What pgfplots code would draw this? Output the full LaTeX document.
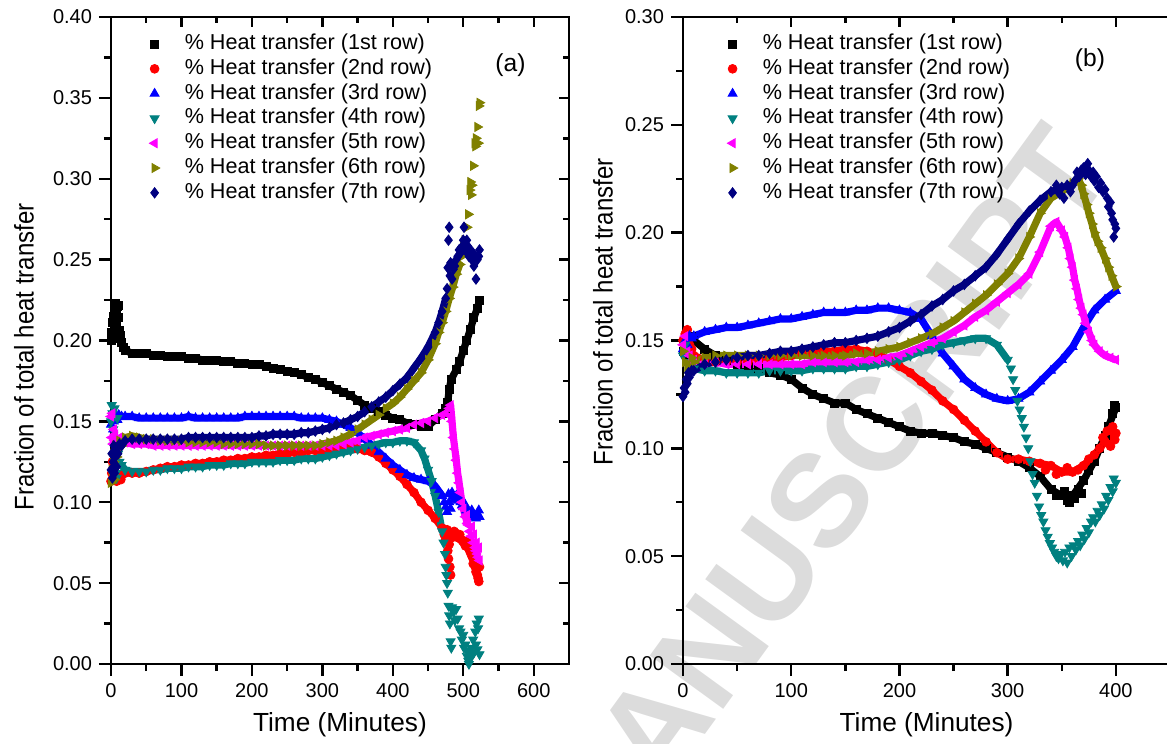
\documentclass[border=0pt]{standalone}
\usepackage{fontspec}
\setmainfont{Liberation Sans}
\usepackage{graphicx}
\usepackage{pgfplots}
\usepackage{pgfplotstable}
\pgfplotsset{compat=1.18}
\definecolor{wm}{RGB}{220,220,220}
\definecolor{cteal}{RGB}{0,128,128}
\definecolor{colive}{RGB}{128,128,0}
\definecolor{cnavy}{RGB}{0,0,128}
\definecolor{cmag}{RGB}{255,0,255}

% ---------------- LEFT PANEL DATA ----------------
\pgfplotstableread{
x y
20 0.194
30 0.192
40 0.192
50 0.192
60 0.191
70 0.191
80 0.190
90 0.190
100 0.190
110 0.189
120 0.189
130 0.188
140 0.188
150 0.188
160 0.187
170 0.187
180 0.186
190 0.186
200 0.185
210 0.185
220 0.184
230 0.183
240 0.182
250 0.181
260 0.180
270 0.179
280 0.177
290 0.176
300 0.174
310 0.172
320 0.170
330 0.168
340 0.166
350 0.163
360 0.160
370 0.158
380 0.156
390 0.154
400 0.152
410 0.151
420 0.149
430 0.148
440 0.147
450 0.147
460 0.151
470 0.155
475 0.158
478 0.162
480 0.170
483 0.176
490 0.182
495 0.187
500 0.194
505 0.200
510 0.207
515 0.214
520 0.220
523 0.225
}\LA
\pgfplotstableread{
x y
0 0.200
1 0.205
2 0.211
3 0.203
4 0.215
5 0.220
6 0.223
7 0.218
8 0.209
9 0.221
10 0.222
11 0.214
12 0.206
13 0.203
14 0.201
15 0.199
17 0.196
}\LnA
\pgfplotstableread{
x y
20 0.118
30 0.118
40 0.118
50 0.119
60 0.120
70 0.121
80 0.122
90 0.122
100 0.123
110 0.123
120 0.124
130 0.124
140 0.125
150 0.125
160 0.126
170 0.126
180 0.127
190 0.127
200 0.128
210 0.128
220 0.129
230 0.129
240 0.130
250 0.130
260 0.131
270 0.131
280 0.132
290 0.132
300 0.132
310 0.133
320 0.133
330 0.134
340 0.134
350 0.133
360 0.132
370 0.131
380 0.128
390 0.124
400 0.120
410 0.116
420 0.111
430 0.106
440 0.100
450 0.095
460 0.090
470 0.084
}\LB
\pgfplotstableread{
x y
0 0.113
1 0.118
2 0.125
3 0.115
4 0.120
5 0.114
6 0.122
7 0.116
8 0.113
9 0.115
10 0.117
12 0.116
14 0.114
16 0.117
473 0.080
475 0.077
477 0.083
478 0.070
479 0.065
480 0.074
481 0.060
482 0.055
483 0.078
485 0.080
487 0.082
489 0.081
491 0.079
493 0.078
495 0.080
497 0.077
499 0.076
501 0.075
503 0.073
505 0.076
507 0.072
509 0.070
511 0.068
513 0.066
514 0.062
516 0.065
517 0.060
518 0.057
520 0.055
521 0.053
522 0.051
523 0.060
}\LnB
\pgfplotstableread{
x y
15 0.153
20 0.153
30 0.153
40 0.152
50 0.152
60 0.152
70 0.152
80 0.152
90 0.152
100 0.152
110 0.153
120 0.152
130 0.152
140 0.152
150 0.152
160 0.152
170 0.152
180 0.152
190 0.153
200 0.153
210 0.153
220 0.153
230 0.153
240 0.153
250 0.153
260 0.153
270 0.152
280 0.152
290 0.152
300 0.152
310 0.151
320 0.150
330 0.148
340 0.146
350 0.143
360 0.139
370 0.135
380 0.131
390 0.127
400 0.123
410 0.120
420 0.117
430 0.115
440 0.114
450 0.113
460 0.110
465 0.107
470 0.104
}\LC
\pgfplotstableread{
x y
0 0.148
1 0.152
2 0.155
3 0.145
4 0.150
5 0.154
7 0.153
9 0.151
11 0.154
473 0.100
475 0.097
477 0.094
479 0.105
480 0.100
482 0.096
484 0.106
486 0.104
488 0.102
490 0.104
492 0.101
494 0.103
496 0.100
498 0.098
500 0.097
502 0.099
504 0.095
506 0.093
508 0.094
510 0.092
512 0.095
514 0.093
516 0.091
518 0.090
520 0.093
522 0.095
523 0.091
}\LnC
\pgfplotstableread{
x y
15 0.123
20 0.120
30 0.119
40 0.119
50 0.119
60 0.120
70 0.120
80 0.121
90 0.121
100 0.121
110 0.122
120 0.122
130 0.122
140 0.123
150 0.123
160 0.123
170 0.124
180 0.124
190 0.124
200 0.125
210 0.125
220 0.125
230 0.125
240 0.126
250 0.126
260 0.126
270 0.127
280 0.127
290 0.127
300 0.128
310 0.129
320 0.130
330 0.131
340 0.132
350 0.133
360 0.134
370 0.135
380 0.136
390 0.137
400 0.137
410 0.138
420 0.138
430 0.137
440 0.132
445 0.127
450 0.120
455 0.113
460 0.104
465 0.094
470 0.082
}\LD
\pgfplotstableread{
x y
0 0.150
1 0.160
2 0.155
3 0.145
4 0.135
5 0.158
6 0.125
7 0.118
8 0.115
9 0.152
10 0.130
12 0.125
472 0.075
474 0.068
475 0.060
476 0.055
477 0.050
478 0.044
479 0.036
480 0.030
481 0.025
482 0.014
483 0.010
484 0.035
486 0.032
488 0.027
490 0.034
492 0.028
494 0.022
496 0.020
498 0.015
500 0.018
501 0.010
503 0.012
505 0.005
506 0.008
507 0.002
508 0.000
509 0.006
511 0.004
512 0.010
514 0.015
515 0.007
517 0.020
518 0.012
519 0.025
520 0.009
521 0.022
522 0.028
523 0.006
}\LnD
\pgfplotstableread{
x y
15 0.138
20 0.137
30 0.136
40 0.136
50 0.136
60 0.135
70 0.135
80 0.135
90 0.135
100 0.135
110 0.135
120 0.135
130 0.135
140 0.135
150 0.135
160 0.135
170 0.135
180 0.135
190 0.135
200 0.135
210 0.135
220 0.135
230 0.135
240 0.135
250 0.135
260 0.135
270 0.135
280 0.135
290 0.135
300 0.135
310 0.135
320 0.135
330 0.136
340 0.137
350 0.138
360 0.140
370 0.141
380 0.142
390 0.143
400 0.144
410 0.145
420 0.146
430 0.148
440 0.149
450 0.150
460 0.152
470 0.154
475 0.155
480 0.158
482 0.160
484 0.150
486 0.140
488 0.133
490 0.126
492 0.118
494 0.112
496 0.106
498 0.100
500 0.096
503 0.091
506 0.087
}\LE
\pgfplotstableread{
x y
0 0.153
1 0.140
2 0.155
3 0.136
4 0.145
5 0.138
6 0.142
8 0.137
10 0.139
12 0.140
505 0.092
507 0.086
509 0.082
511 0.079
512 0.085
514 0.075
515 0.080
517 0.072
518 0.070
519 0.075
520 0.068
521 0.066
522 0.072
523 0.064
}\LnE
\pgfplotstableread{
x y
15 0.135
20 0.140
30 0.141
40 0.140
50 0.139
60 0.139
70 0.138
80 0.138
90 0.138
100 0.138
110 0.137
120 0.137
130 0.137
140 0.137
150 0.137
160 0.136
170 0.136
180 0.136
190 0.136
200 0.136
210 0.136
220 0.135
230 0.135
240 0.135
250 0.135
260 0.135
270 0.135
280 0.135
290 0.135
300 0.136
310 0.137
320 0.138
330 0.140
340 0.142
350 0.145
360 0.148
370 0.151
380 0.154
390 0.158
400 0.161
410 0.165
420 0.170
430 0.175
440 0.180
450 0.188
460 0.198
465 0.205
470 0.211
475 0.218
480 0.226
485 0.233
490 0.241
495 0.247
}\LF
\pgfplotstableread{
x y
0 0.112
1 0.120
2 0.117
3 0.130
4 0.125
5 0.114
6 0.135
8 0.128
10 0.133
12 0.138
498 0.252
500 0.258
502 0.262
503 0.255
505 0.270
507 0.278
509 0.293
510 0.298
511 0.290
512 0.296
514 0.308
516 0.322
517 0.320
518 0.325
520 0.332
521 0.322
522 0.345
523 0.347
}\LnF
\pgfplotstableread{
x y
15 0.135
20 0.138
30 0.139
40 0.139
50 0.139
60 0.139
70 0.139
80 0.139
90 0.139
100 0.139
110 0.140
120 0.140
130 0.140
140 0.140
150 0.140
160 0.140
170 0.140
180 0.140
190 0.140
200 0.140
210 0.141
220 0.141
230 0.142
240 0.142
250 0.142
260 0.142
270 0.143
280 0.143
290 0.144
300 0.145
310 0.146
320 0.148
330 0.149
340 0.151
350 0.153
360 0.156
370 0.159
380 0.162
390 0.165
400 0.169
410 0.173
420 0.177
430 0.183
440 0.189
450 0.196
460 0.205
465 0.211
470 0.218
475 0.226
}\LG
\pgfplotstableread{
x y
0 0.120
1 0.130
2 0.115
3 0.125
4 0.135
5 0.118
6 0.128
7 0.132
8 0.122
10 0.130
12 0.136
477 0.232
478 0.245
479 0.262
480 0.270
481 0.240
482 0.248
484 0.238
486 0.244
488 0.246
490 0.250
492 0.252
494 0.256
496 0.254
498 0.258
500 0.262
501 0.270
502 0.259
504 0.255
505 0.262
507 0.258
508 0.252
510 0.256
512 0.250
514 0.254
515 0.246
517 0.252
518 0.238
520 0.250
522 0.252
523 0.256
}\LnG

% ---------------- RIGHT PANEL DATA ----------------
\pgfplotstableread{
x y
10 0.150
20 0.146
30 0.143
40 0.141
50 0.139
60 0.138
70 0.137
80 0.135
90 0.134
100 0.132
110 0.128
120 0.125
130 0.123
140 0.121
150 0.121
160 0.118
170 0.116
180 0.114
190 0.112
200 0.110
210 0.108
220 0.107
230 0.107
240 0.106
250 0.105
260 0.103
270 0.102
280 0.100
290 0.098
300 0.096
310 0.094
320 0.091
330 0.087
340 0.081
350 0.078
360 0.078
370 0.085
380 0.094
390 0.106
400 0.119
}\RA
\pgfplotstableread{
x y
0 0.145
2 0.148
4 0.143
6 0.150
8 0.152
345 0.078
352 0.080
355 0.076
357 0.075
362 0.077
365 0.081
368 0.079
375 0.090
385 0.100
393 0.110
397 0.116
399 0.120
}\RnA
\pgfplotstableread{
x y
10 0.143
20 0.141
30 0.140
40 0.140
50 0.140
60 0.140
70 0.141
80 0.142
90 0.142
100 0.143
110 0.144
120 0.144
130 0.145
140 0.145
150 0.146
160 0.146
170 0.145
180 0.144
190 0.141
200 0.138
210 0.135
220 0.131
230 0.127
240 0.122
250 0.118
260 0.113
270 0.108
280 0.103
290 0.098
300 0.095
310 0.095
320 0.094
330 0.093
340 0.092
350 0.089
360 0.089
370 0.092
380 0.097
390 0.103
400 0.107
}\RB
\pgfplotstableread{
x y
0 0.150
2 0.153
4 0.155
6 0.148
8 0.146
335 0.090
345 0.088
355 0.091
365 0.090
375 0.095
385 0.100
388 0.105
392 0.108
395 0.101
397 0.110
399 0.104
}\RnB
\pgfplotstableread{
x y
10 0.152
20 0.154
30 0.155
40 0.156
50 0.156
60 0.157
70 0.158
80 0.159
90 0.160
100 0.160
110 0.161
120 0.162
130 0.163
140 0.163
150 0.163
160 0.164
170 0.164
180 0.165
190 0.165
200 0.164
210 0.163
220 0.160
230 0.152
240 0.144
250 0.138
260 0.132
270 0.128
280 0.125
290 0.123
300 0.122
310 0.123
320 0.126
330 0.131
340 0.136
350 0.141
360 0.147
370 0.156
380 0.164
390 0.169
400 0.173
}\RC
\pgfplotstableread{
x y
0 0.146
2 0.150
4 0.148
6 0.152
8 0.151
}\RnC
\pgfplotstableread{
x y
10 0.137
20 0.136
30 0.136
40 0.135
50 0.135
60 0.135
70 0.135
80 0.136
90 0.136
100 0.136
110 0.136
120 0.137
130 0.137
140 0.137
150 0.137
160 0.138
170 0.138
180 0.139
190 0.140
200 0.141
210 0.143
220 0.145
230 0.146
240 0.148
250 0.149
260 0.150
270 0.151
280 0.151
290 0.148
300 0.141
}\RD
\pgfplotstableread{
x y
0 0.143
2 0.148
4 0.140
6 0.139
8 0.138
303 0.137
305 0.132
307 0.127
309 0.122
311 0.118
313 0.114
315 0.110
317 0.105
319 0.100
321 0.094
323 0.088
325 0.084
327 0.078
329 0.073
331 0.069
333 0.066
335 0.062
337 0.059
339 0.056
341 0.054
343 0.052
345 0.050
347 0.049
349 0.051
351 0.048
353 0.052
355 0.047
357 0.054
359 0.050
361 0.055
363 0.053
365 0.057
367 0.055
369 0.060
371 0.058
373 0.063
375 0.061
377 0.066
379 0.068
381 0.066
383 0.071
385 0.069
387 0.074
389 0.072
391 0.078
393 0.076
395 0.082
397 0.080
398 0.086
400 0.084
}\RnD
\pgfplotstableread{
x y
10 0.141
20 0.140
30 0.140
40 0.139
50 0.139
60 0.139
70 0.139
80 0.139
90 0.139
100 0.139
110 0.139
120 0.140
130 0.140
140 0.140
150 0.140
160 0.140
170 0.141
180 0.141
190 0.142
200 0.143
210 0.145
220 0.147
230 0.149
240 0.151
250 0.154
260 0.157
270 0.161
280 0.164
290 0.168
300 0.172
310 0.176
320 0.181
330 0.191
340 0.203
345 0.205
350 0.201
353 0.198
356 0.193
358 0.188
360 0.184
362 0.178
364 0.174
366 0.169
368 0.165
370 0.162
372 0.158
375 0.154
378 0.150
380 0.148
385 0.145
390 0.143
395 0.142
400 0.141
}\RE
\pgfplotstableread{
x y
0 0.148
2 0.152
4 0.145
6 0.143
8 0.140
}\RnE
\pgfplotstableread{
x y
10 0.140
20 0.142
30 0.143
40 0.143
50 0.143
60 0.143
70 0.143
80 0.143
90 0.143
100 0.143
110 0.143
120 0.143
130 0.143
140 0.143
150 0.143
160 0.144
170 0.144
180 0.145
190 0.146
200 0.147
210 0.149
220 0.151
230 0.153
240 0.156
250 0.159
260 0.163
270 0.167
280 0.171
290 0.176
300 0.181
310 0.188
320 0.198
330 0.209
340 0.216
350 0.219
360 0.223
365 0.225
368 0.222
370 0.218
373 0.213
375 0.209
378 0.204
380 0.200
383 0.196
386 0.193
390 0.188
393 0.184
396 0.180
400 0.175
}\RF
\pgfplotstableread{
x y
0 0.145
2 0.140
4 0.137
6 0.138
8 0.142
}\RnF
\pgfplotstableread{
x y
10 0.136
20 0.139
30 0.140
40 0.141
50 0.142
60 0.143
70 0.143
80 0.144
90 0.145
100 0.145
110 0.146
120 0.147
130 0.148
140 0.149
150 0.149
160 0.150
170 0.151
180 0.152
190 0.154
200 0.156
210 0.159
220 0.162
230 0.166
240 0.169
250 0.173
260 0.176
270 0.180
280 0.184
290 0.190
300 0.197
310 0.204
320 0.210
330 0.215
340 0.219
350 0.221
360 0.222
}\RG
\pgfplotstableread{
x y
0 0.124
1 0.128
2 0.126
3 0.132
4 0.130
5 0.135
6 0.133
8 0.136
345 0.222
348 0.218
352 0.216
355 0.222
358 0.219
362 0.224
364 0.228
366 0.226
368 0.229
370 0.230
372 0.227
374 0.232
375 0.229
377 0.226
379 0.228
380 0.224
382 0.226
384 0.221
386 0.223
388 0.219
390 0.220
392 0.216
393 0.212
395 0.214
396 0.209
397 0.206
398 0.198
399 0.204
400 0.202
}\RnG

\newcommand{\series}[5]{%
  \addplot[forget plot, no marks, color=#3, line width=3.6pt, line join=round, line cap=round] table {#1};
  \addplot[only marks, color=#3, #4] table {#1};
  \addlegendentry{#5}
  \addplot[forget plot, only marks, color=#3, #4] table {#2};
}

\pgfplotsset{
  panel/.style={
    scale only axis, height=323.5pt, ymin=0,
    tick align=outside, xtick pos=left, ytick pos=left,
    minor x tick num=1, minor y tick num=1,
    major tick length=6pt, minor tick length=3.5pt,
    axis line style={line width=1.2pt},
    tick style={line width=1.2pt, black},
    ticklabel style={font=\fontsize{10}{12}\selectfont},
    /pgf/number format/assume math mode=true,
    yticklabel style={/pgf/number format/fixed,/pgf/number format/fixed zerofill,/pgf/number format/precision=2},
    scaled y ticks=false,
    xlabel={Time (Minutes)},
    xlabel style={font=\fontsize{13.1}{15}\selectfont, at={(rel axis cs:0.5,-0.0945)}, anchor=center},
    ylabel={\scalebox{0.89}[1]{Fraction of total heat transfer}},
    legend cell align=left,
    legend style={draw=none, fill=none, anchor=north west, inner sep=0pt,
      font=\fontsize{10.8}{12}\selectfont,
      nodes={inner sep=1pt, text height=7.9pt, text depth=2.5pt}, column sep=11.5pt},
  },
  frame/.style={
    scale only axis, height=323.5pt, ymin=0,
    tick align=inside, xtick pos=right, ytick pos=right,
    minor x tick num=1, minor y tick num=1,
    major tick length=5pt, minor tick length=3pt,
    axis line style={draw=none},
    tick style={line width=1.2pt, black},
    xticklabels={}, yticklabels={},
  },
}

\begin{document}
\begin{tikzpicture}
\node[anchor=east, rotate=54, inner sep=0pt, text=wm, font=\fontsize{66}{66}\selectfont\bfseries] at (484pt,260pt) {MANUSCRIPT};

% ---------- left panel ----------
\begin{axis}[panel, at={(0pt,0pt)}, anchor=south west, width=229pt,
  xmin=0, xmax=650, ymax=0.40,
  xtick={0,100,200,300,400,500,600},
  ytick={0,0.05,0.10,0.15,0.20,0.25,0.30,0.35,0.40},
  ylabel style={font=\fontsize{13.5}{15}\selectfont, at={(rel axis cs:-0.190,0.4745)}, anchor=center},
  legend style={at={(rel axis cs:0.083,0.978)}},
]
\series{\LA}{\LnA}{black}{mark=square*, mark size=2pt}{\% Heat transfer (1st row)}
\series{\LB}{\LnB}{red}{mark=*, mark size=2.2pt}{\% Heat transfer (2nd row)}
\series{\LC}{\LnC}{blue}{mark=triangle*, mark size=2.6pt}{\% Heat transfer (3rd row)}
\series{\LD}{\LnD}{cteal}{mark=triangle*, mark size=2.6pt, mark options={rotate=180}}{\% Heat transfer (4th row)}
\series{\LE}{\LnE}{cmag}{mark=triangle*, mark size=2.6pt, mark options={rotate=90}}{\% Heat transfer (5th row)}
\series{\LF}{\LnF}{colive}{mark=triangle*, mark size=2.6pt, mark options={rotate=-90}}{\% Heat transfer (6th row)}
\series{\LG}{\LnG}{cnavy}{mark=diamond*, mark size=2.6pt}{\% Heat transfer (7th row)}
\node[font=\fontsize{12.3}{14}\selectfont] at (axis cs:567,0.370) {(a)};
\end{axis}
\begin{axis}[frame, at={(0pt,0pt)}, anchor=south west, width=229pt,
  xmin=0, xmax=650, ymax=0.40,
  xtick={0,100,200,300,400,500,600},
  ytick={0,0.05,0.10,0.15,0.20,0.25,0.30,0.35,0.40}]
\end{axis}

% ---------- right panel ----------
\begin{axis}[panel, at={(286pt,0pt)}, anchor=south west, width=243.5pt,
  xmin=0, xmax=450, ymax=0.30,
  xtick={0,100,200,300,400},
  ytick={0,0.05,0.10,0.15,0.20,0.25,0.30},
  ylabel style={font=\fontsize{13.5}{15}\selectfont, at={(rel axis cs:-0.1643,0.544)}, anchor=center},
  legend style={at={(rel axis cs:0.0903,0.978)}},
]
\series{\RA}{\RnA}{black}{mark=square*, mark size=2pt}{\% Heat transfer (1st row)}
\series{\RB}{\RnB}{red}{mark=*, mark size=2.2pt}{\% Heat transfer (2nd row)}
\series{\RC}{\RnC}{blue}{mark=triangle*, mark size=2.6pt}{\% Heat transfer (3rd row)}
\series{\RD}{\RnD}{cteal}{mark=triangle*, mark size=2.6pt, mark options={rotate=180}}{\% Heat transfer (4th row)}
\series{\RE}{\RnE}{cmag}{mark=triangle*, mark size=2.6pt, mark options={rotate=90}}{\% Heat transfer (5th row)}
\series{\RF}{\RnF}{colive}{mark=triangle*, mark size=2.6pt, mark options={rotate=-90}}{\% Heat transfer (6th row)}
\series{\RG}{\RnG}{cnavy}{mark=diamond*, mark size=2.6pt}{\% Heat transfer (7th row)}
\node[font=\fontsize{12.3}{14}\selectfont] at (axis cs:376,0.280) {(b)};
\end{axis}
\begin{axis}[frame, at={(286pt,0pt)}, anchor=south west, width=243.5pt,
  xmin=0, xmax=450, ymax=0.30,
  xtick={0,100,200,300,400}, ytick=\empty]
\end{axis}

\pgfresetboundingbox
\path[use as bounding box] (-55.5pt,-40pt) rectangle (528pt,332pt);
\end{tikzpicture}
\end{document}
